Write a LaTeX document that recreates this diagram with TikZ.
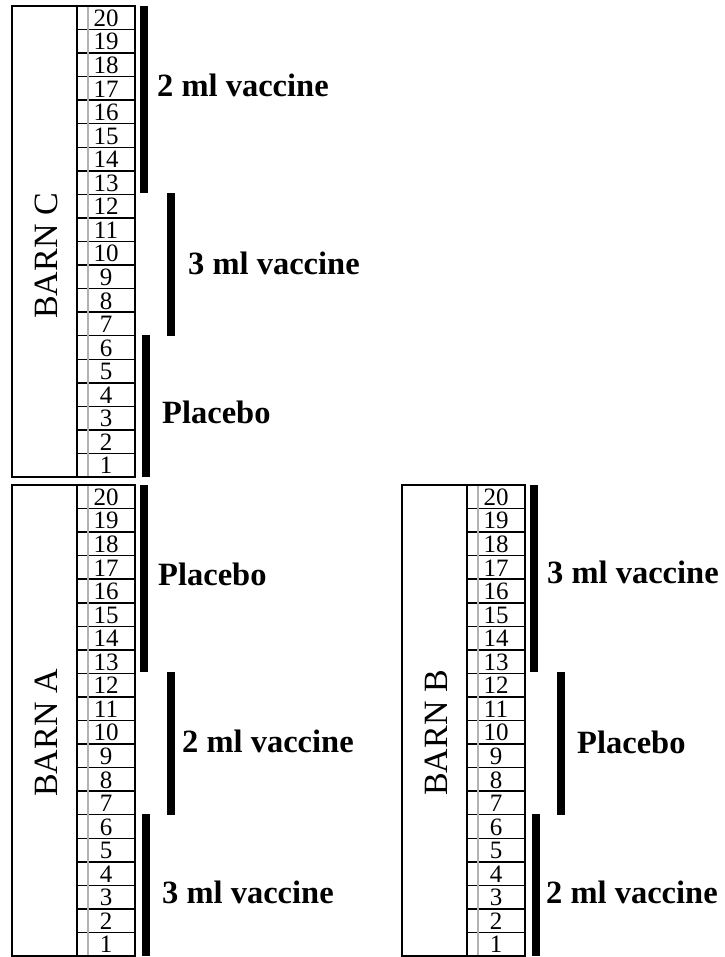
\documentclass[tikz,border=0pt]{standalone}
\usepackage{fontspec}
\setmainfont{Liberation Serif}
\newcommand\barnunit[3]{% #1 id, #2 X, #3 Y
  \begin{scope}[shift={(#2,#3)}]
    \draw[frame] (0,0) rectangle (123,471);
    \foreach \i in {1,...,19} \draw[rowline] (65,\i*23.55) -- (123,\i*23.55);
    \draw[rowline] (65,0) -- (65,471);
    \draw[gridgray] (76,1) -- (76,470);
    \foreach \i in {1,...,20} \node[numtxt] (#1-n\i) at (94,{(20-\i+0.5)*23.55+0.5}) {\i};
    \fill[groupbar] (128,0) rectangle (136,187);
    \fill[groupbar] (155,187) rectangle (163,330);
    \fill[groupbar] (130,329) rectangle (138,471);
  \end{scope}}
\begin{document}
\begin{tikzpicture}[x=1pt,y=-1pt,
  frame/.style={draw=black,line width=1.6pt},
  rowline/.style={draw=black,line width=1.5pt},
  gridgray/.style={draw=black!30,line width=1.3pt},
  groupbar/.style={fill=black},
  numtxt/.style={font=\fontsize{25}{25}\selectfont,inner sep=0pt},
  grouplab/.style={font=\fontsize{32.5}{32.5}\selectfont\bfseries,inner sep=0pt,anchor=base west},
  barnlab/.style={font=\fontsize{34}{34}\selectfont,rotate=90,inner sep=0pt}]
\useasboundingbox (0,0) rectangle (724,957);
% Barn C
\barnunit{C}{12}{6}
\node[barnlab] (barnC) at (46.5,256) {BARN C};
\node[grouplab] (C-lab1) at (157,97) {2 ml vaccine};
\node[grouplab] (C-lab2) at (188,275) {3 ml vaccine};
\node[grouplab] (C-lab3) at (162,423) {Placebo};
% Barn A
\barnunit{A}{12}{485}
\node[barnlab] (barnA) at (46.5,733) {BARN A};
\node[grouplab] (A-lab1) at (158,585) {Placebo};
\node[grouplab] (A-lab2) at (182,752) {2 ml vaccine};
\node[grouplab] (A-lab3) at (162,903) {3 ml vaccine};
% Barn B
\barnunit{B}{402}{485}
\node[barnlab] (barnB) at (436.5,733) {BARN B};
\node[grouplab] (B-lab1) at (547,583) {3 ml vaccine};
\node[grouplab] (B-lab2) at (577,753) {Placebo};
\node[grouplab] (B-lab3) at (546,903) {2 ml vaccine};
\end{tikzpicture}
\end{document}
